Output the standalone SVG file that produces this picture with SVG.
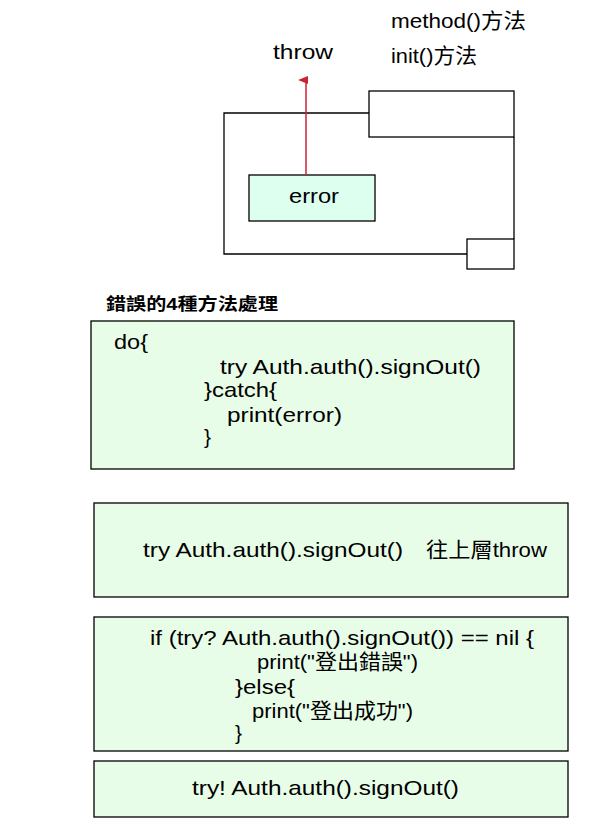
<svg xmlns="http://www.w3.org/2000/svg" width="610" height="832" viewBox="0 0 610 832">
<style>
text{font-family:"Liberation Sans","Noto Sans CJK TC",Arial,sans-serif;font-size:21px;fill:#000}
.ln{fill:none;stroke:#000;stroke-width:1.3}
.box{fill:#e8fde8;stroke:#000;stroke-width:1.3}
.b{font-weight:bold;font-size:17px}
</style>
<defs>
<marker id="ah" markerWidth="10" markerHeight="10" refX="4" refY="8" orient="auto" markerUnits="userSpaceOnUse">
<path d="M0,10 L4,0 L8,10 Z" fill="#cc2233"/>
</marker>
</defs>
<rect width="610" height="832" fill="#fff"/>
<g id="labels-top">
<text x="391" y="28" textLength="135" lengthAdjust="spacingAndGlyphs">method()方法</text>
<text x="391" y="63" textLength="86" lengthAdjust="spacingAndGlyphs">init()方法</text>
<text x="273" y="59" textLength="60" lengthAdjust="spacingAndGlyphs">throw</text>
</g>
<g id="frame">
<path class="ln" d="M369,113 H224 V254 H467 M514,137 V239"/>
</g>
<g id="method-box"><rect class="ln" x="369" y="91" width="145" height="46"/></g>
<g id="init-box"><rect class="ln" x="467" y="239" width="47" height="30"/></g>
<g id="error">
<rect x="249" y="175" width="126" height="46" fill="#dcfff0" stroke="#000" stroke-width="1.3"/>
<text x="289" y="203" textLength="50" lengthAdjust="spacingAndGlyphs">error</text>
</g>
<g id="connectors">
<line x1="306" y1="175" x2="306" y2="80" stroke="#cc2233" stroke-width="1.5" marker-end="url(#ah)"/>
</g>
<g id="title"><text class="b" x="106" y="310" textLength="172" lengthAdjust="spacingAndGlyphs">錯誤的4種方法處理</text></g>
<g id="do-catch">
<rect class="box" x="91" y="321" width="423" height="148"/>
<text x="114" y="349" textLength="34" lengthAdjust="spacingAndGlyphs">do{</text>
<text x="220" y="374" textLength="261" lengthAdjust="spacingAndGlyphs">try Auth.auth().signOut()</text>
<text x="204" y="397" textLength="73" lengthAdjust="spacingAndGlyphs">}catch{</text>
<text x="227" y="422" textLength="115" lengthAdjust="spacingAndGlyphs">print(error)</text>
<text x="204" y="444">}</text>
</g>
<g id="try-throw">
<rect class="box" x="94" y="503" width="474" height="94"/>
<text x="143" y="557" textLength="260" lengthAdjust="spacingAndGlyphs">try Auth.auth().signOut()</text>
<text x="426" y="557" textLength="121" lengthAdjust="spacingAndGlyphs">往上層throw</text>
</g>
<g id="try-optional">
<rect class="box" x="94" y="617" width="474" height="134"/>
<text x="150" y="645" textLength="384" lengthAdjust="spacingAndGlyphs">if (try? Auth.auth().signOut()) == nil {</text>
<text x="257" y="669" textLength="161" lengthAdjust="spacingAndGlyphs">print("登出錯誤")</text>
<text x="235" y="694" textLength="60" lengthAdjust="spacingAndGlyphs">}else{</text>
<text x="252" y="718" textLength="161" lengthAdjust="spacingAndGlyphs">print("登出成功")</text>
<text x="235" y="740">}</text>
</g>
<g id="try-force">
<rect class="box" x="94" y="761" width="474" height="56"/>
<text x="192" y="795" textLength="267" lengthAdjust="spacingAndGlyphs">try! Auth.auth().signOut()</text>
</g>
</svg>
